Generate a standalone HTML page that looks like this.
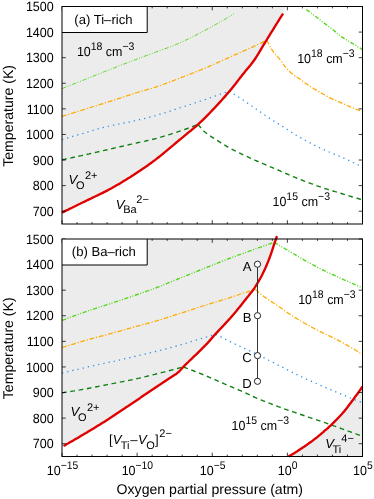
<!DOCTYPE html>
<html><head><meta charset="utf-8"><title>Defect phase diagram</title>
<style>
html,body{margin:0;padding:0;background:#fff;}
svg{display:block;font-family:"Liberation Sans",sans-serif;font-size:13.1px;fill:#000;will-change:transform;text-rendering:geometricPrecision;}
.it{font-style:italic;}
</style></head><body>
<svg width="374" height="499" viewBox="0 0 374 499">
<rect width="374" height="499" fill="#fff"/>
<polygon points="62.0,6.5 285.5,6.5 283.1,13.5 281.6,15.9 280.1,18.2 278.6,20.6 277.1,23.0 275.6,25.4 274.1,27.8 272.6,30.3 271.1,32.7 269.6,35.1 268.1,37.6 266.6,40.0 265.1,42.5 263.5,45.0 262.0,47.6 260.5,50.2 259.0,52.7 257.5,55.1 256.0,57.5 254.5,59.7 253.0,61.8 251.5,63.8 250.0,65.7 248.5,67.5 247.0,69.3 245.5,71.1 244.0,72.9 242.5,74.8 241.0,76.7 239.5,78.6 238.0,80.6 236.5,82.5 235.0,84.4 233.5,86.3 232.0,88.2 230.5,90.1 229.0,91.8 227.4,93.6 225.9,95.4 224.4,97.1 222.9,98.8 221.4,100.5 219.9,102.1 218.4,103.7 216.9,105.4 215.4,107.0 213.9,108.6 212.4,110.1 210.9,111.7 209.4,113.3 207.9,114.8 206.4,116.3 204.9,117.8 203.4,119.3 201.9,120.8 200.4,122.2 198.9,123.6 197.4,125.0 195.9,126.3 194.4,127.6 192.9,128.9 191.4,130.2 189.8,131.4 188.3,132.7 186.8,133.9 185.3,135.1 183.8,136.3 182.3,137.6 180.8,138.8 179.3,140.0 177.8,141.3 176.3,142.5 174.8,143.8 173.3,145.1 171.8,146.3 170.3,147.6 168.8,148.9 167.3,150.1 165.8,151.4 164.3,152.6 162.8,153.9 161.3,155.1 159.8,156.3 158.3,157.5 156.8,158.7 155.3,159.9 153.7,161.0 152.2,162.1 150.7,163.2 149.2,164.3 147.7,165.4 146.2,166.4 144.7,167.5 143.2,168.5 141.7,169.5 140.2,170.5 138.7,171.5 137.2,172.5 135.7,173.5 134.2,174.5 132.7,175.4 131.2,176.4 129.7,177.4 128.2,178.3 126.7,179.3 125.2,180.2 123.7,181.1 122.2,182.1 120.7,183.0 119.2,183.9 117.7,184.7 116.1,185.6 114.6,186.5 113.1,187.3 111.6,188.2 110.1,189.0 108.6,189.8 107.1,190.6 105.6,191.4 104.1,192.1 102.6,192.9 101.1,193.6 99.6,194.3 98.1,195.1 96.6,195.8 95.1,196.5 93.6,197.2 92.1,197.9 90.6,198.7 89.1,199.4 87.6,200.1 86.1,200.8 84.6,201.6 83.1,202.3 81.6,203.0 80.0,203.8 78.5,204.5 77.0,205.2 75.5,206.0 74.0,206.7 72.5,207.5 71.0,208.2 69.5,208.9 68.0,209.7 66.5,210.4 65.0,211.1 63.5,211.9 62.0,212.6 62.0,212.3" fill="#ececec"/>
<polyline points="62.0,88.6 63.5,88.0 65.0,87.4 66.5,86.8 68.0,86.2 69.5,85.6 71.0,85.0 72.6,84.4 74.1,83.8 75.6,83.2 77.1,82.6 78.6,82.0 80.1,81.4 81.6,80.8 83.1,80.2 84.6,79.6 86.1,79.0 87.6,78.4 89.1,77.8 90.7,77.2 92.2,76.6 93.7,76.0 95.2,75.4 96.7,74.8 98.2,74.2 99.7,73.6 101.2,73.0 102.7,72.4 104.2,71.8 105.7,71.2 107.2,70.6 108.7,70.0 110.3,69.4 111.8,68.8 113.3,68.2 114.8,67.6 116.3,67.0 117.8,66.4 119.3,65.8 120.8,65.3 122.3,64.7 123.8,64.1 125.3,63.5 126.8,63.0 128.3,62.4 129.9,61.8 131.4,61.2 132.9,60.7 134.4,60.1 135.9,59.5 137.4,59.0 138.9,58.4 140.4,57.8 141.9,57.3 143.4,56.7 144.9,56.1 146.4,55.6 147.9,55.0 149.5,54.5 151.0,53.9 152.5,53.4 154.0,52.8 155.5,52.2 157.0,51.7 158.5,51.1 160.0,50.6 161.5,50.0 163.0,49.5 164.5,48.9 166.0,48.4 167.6,47.8 169.1,47.2 170.6,46.7 172.1,46.1 173.6,45.5 175.1,44.9 176.6,44.3 178.1,43.6 179.6,43.0 181.1,42.3 182.6,41.6 184.1,40.9 185.6,40.2 187.2,39.5 188.7,38.8 190.2,38.0 191.7,37.3 193.2,36.5 194.7,35.7 196.2,35.0 197.7,34.2 199.2,33.4 200.7,32.6 202.2,31.8 203.7,31.0 205.2,30.2 206.8,29.4 208.3,28.6 209.8,27.8 211.3,26.9 212.8,26.1 214.3,25.3 215.8,24.4 217.3,23.6 218.8,22.7 220.3,21.8 221.8,21.0 223.3,20.1 224.9,19.2 226.4,18.3 227.9,17.4 229.4,16.5 230.9,15.6 232.4,14.7 233.9,13.8" fill="none" stroke="#55d61e" stroke-width="1.0" stroke-dasharray="4.2 1.6 1.0 1.6 1.0 1.6"/>
<polyline points="306.3,9.5 307.8,10.6 309.3,11.7 310.9,12.9 312.4,14.0 313.9,15.2 315.4,16.3 316.9,17.5 318.5,18.7 320.0,19.9 321.5,21.1 323.0,22.3 324.5,23.4 326.0,24.5 327.6,25.6 329.1,26.7 330.6,27.8 332.1,29.0 333.6,30.3 335.2,31.6 336.7,32.9 338.2,34.2 339.7,35.4 341.2,36.6 342.8,37.7 344.3,38.7 345.8,39.6 347.3,40.5 348.8,41.4 350.3,42.3 351.9,43.1 353.4,44.0 354.9,44.9 356.4,45.8 357.9,46.8 359.5,47.7 361.0,48.6 362.5,49.6" fill="none" stroke="#55d61e" stroke-width="1.4" stroke-dasharray="4.2 1.6 1.0 1.6 1.0 1.6"/>
<polyline points="62.0,116.4 63.5,115.9 65.0,115.5 66.5,115.0 68.0,114.5 69.5,114.1 71.0,113.6 72.5,113.1 74.0,112.7 75.6,112.2 77.1,111.7 78.6,111.3 80.1,110.8 81.6,110.3 83.1,109.8 84.6,109.4 86.1,108.9 87.6,108.4 89.1,107.9 90.6,107.5 92.1,107.0 93.6,106.5 95.1,106.0 96.6,105.6 98.1,105.1 99.6,104.6 101.2,104.1 102.7,103.7 104.2,103.2 105.7,102.7 107.2,102.2 108.7,101.7 110.2,101.3 111.7,100.8 113.2,100.3 114.7,99.8 116.2,99.3 117.7,98.8 119.2,98.3 120.7,97.9 122.2,97.4 123.7,96.9 125.2,96.4 126.8,95.9 128.3,95.4 129.8,94.9 131.3,94.4 132.8,93.9 134.3,93.4 135.8,93.0 137.3,92.5 138.8,92.0 140.3,91.6 141.8,91.1 143.3,90.7 144.8,90.3 146.3,89.8 147.8,89.4 149.3,89.0 150.8,88.6 152.4,88.1 153.9,87.6 155.4,87.2 156.9,86.7 158.4,86.1 159.9,85.6 161.4,85.1 162.9,84.5 164.4,84.0 165.9,83.4 167.4,82.9 168.9,82.3 170.4,81.7 171.9,81.1 173.4,80.6 174.9,80.0 176.4,79.4 178.0,78.8 179.5,78.3 181.0,77.7 182.5,77.1 184.0,76.5 185.5,75.9 187.0,75.4 188.5,74.8 190.0,74.2 191.5,73.6 193.0,73.0 194.5,72.4 196.0,71.8 197.5,71.2 199.0,70.6 200.5,70.0 202.0,69.3 203.6,68.7 205.1,68.1 206.6,67.4 208.1,66.8 209.6,66.1 211.1,65.5 212.6,64.8 214.1,64.2 215.6,63.5 217.1,62.8 218.6,62.1 220.1,61.5 221.6,60.8 223.1,60.1 224.6,59.4 226.1,58.8 227.6,58.1 229.2,57.4 230.7,56.7 232.2,56.1 233.7,55.4 235.2,54.7 236.7,54.1 238.2,53.4 239.7,52.7 241.2,52.1 242.7,51.4 244.2,50.7 245.7,50.0 247.2,49.4 248.7,48.7 250.2,48.0 251.7,47.3 253.2,46.6 254.8,45.9 256.3,45.2 257.8,44.5 259.3,43.8 260.8,43.1 262.3,42.4 263.8,41.6 265.3,40.9 266.8,40.2" fill="none" stroke="#ffab00" stroke-width="1.3" stroke-dasharray="4.8 1.8 1.2 1.8"/>
<polyline points="266.8,40.2 268.3,43.3 269.8,46.2 271.4,48.8 272.9,51.2 274.4,53.2 275.9,55.0 277.4,56.6 279.0,58.3 280.5,60.2 282.0,62.3 283.5,64.5 285.0,66.6 286.5,68.4 288.1,70.0 289.6,71.5 291.1,72.9 292.6,74.1 294.1,75.2 295.7,76.2 297.2,77.2 298.7,78.2 300.2,79.3 301.7,80.4 303.3,81.6 304.8,82.7 306.3,83.7 307.8,84.7 309.3,85.7 310.9,86.7 312.4,87.7 313.9,88.7 315.4,89.6 316.9,90.5 318.4,91.4 320.0,92.3 321.5,93.1 323.0,94.0 324.5,94.8 326.0,95.7 327.6,96.6 329.1,97.4 330.6,98.1 332.1,98.9 333.6,99.6 335.2,100.2 336.7,100.9 338.2,101.6 339.7,102.2 341.2,102.8 342.8,103.5 344.3,104.1 345.8,104.8 347.3,105.5 348.8,106.1 350.3,106.8 351.9,107.4 353.4,108.1 354.9,108.7 356.4,109.3 357.9,109.8 359.5,110.3 361.0,110.8 362.5,111.3" fill="none" stroke="#ffab00" stroke-width="1.3" stroke-dasharray="4.8 1.8 1.2 1.8"/>
<polyline points="62.0,139.7 63.5,139.2 65.0,138.7 66.5,138.3 68.0,137.8 69.5,137.3 71.0,136.9 72.6,136.4 74.1,136.0 75.6,135.5 77.1,135.1 78.6,134.6 80.1,134.2 81.6,133.7 83.1,133.3 84.6,132.8 86.1,132.4 87.6,132.0 89.1,131.5 90.7,131.1 92.2,130.7 93.7,130.2 95.2,129.8 96.7,129.4 98.2,128.9 99.7,128.5 101.2,128.1 102.7,127.7 104.2,127.3 105.7,126.9 107.2,126.5 108.8,126.2 110.3,125.8 111.8,125.5 113.3,125.1 114.8,124.8 116.3,124.5 117.8,124.2 119.3,123.9 120.8,123.6 122.3,123.3 123.8,123.0 125.3,122.7 126.8,122.4 128.4,122.1 129.9,121.8 131.4,121.5 132.9,121.2 134.4,120.8 135.9,120.5 137.4,120.1 138.9,119.8 140.4,119.4 141.9,119.1 143.4,118.7 144.9,118.4 146.5,118.0 148.0,117.6 149.5,117.2 151.0,116.8 152.5,116.4 154.0,116.0 155.5,115.6 157.0,115.1 158.5,114.7 160.0,114.2 161.5,113.8 163.0,113.3 164.6,112.8 166.1,112.4 167.6,111.9 169.1,111.4 170.6,110.9 172.1,110.4 173.6,109.9 175.1,109.4 176.6,108.9 178.1,108.4 179.6,107.9 181.1,107.4 182.6,107.0 184.2,106.5 185.7,106.0 187.2,105.5 188.7,105.0 190.2,104.5 191.7,104.0 193.2,103.5 194.7,103.0 196.2,102.5 197.7,102.0 199.2,101.5 200.7,101.0 202.3,100.5 203.8,100.0 205.3,99.5 206.8,99.0 208.3,98.4 209.8,97.9 211.3,97.4 212.8,96.9 214.3,96.4 215.8,95.8 217.3,95.3 218.8,94.8 220.4,94.2 221.9,93.7 223.4,93.2 224.9,92.6 226.4,92.1 227.9,91.5 229.4,91.0" fill="none" stroke="#2f90e4" stroke-width="1.3" stroke-dasharray="1.3 4.0"/>
<polyline points="229.4,91.0 230.9,92.0 232.4,93.0 233.9,94.0 235.5,95.0 237.0,96.0 238.5,97.0 240.0,98.0 241.5,99.0 243.0,100.0 244.5,101.1 246.0,102.1 247.6,103.1 249.1,104.1 250.6,105.2 252.1,106.2 253.6,107.3 255.1,108.3 256.6,109.4 258.1,110.4 259.6,111.5 261.2,112.6 262.7,113.6 264.2,114.7 265.7,115.7 267.2,116.7 268.7,117.8 270.2,118.8 271.8,119.7 273.3,120.7 274.8,121.6 276.3,122.5 277.8,123.4 279.3,124.3 280.8,125.3 282.3,126.2 283.9,127.2 285.4,128.2 286.9,129.2 288.4,130.2 289.9,131.2 291.4,132.2 292.9,133.1 294.4,134.1 295.9,135.0 297.5,135.9 299.0,136.8 300.5,137.6 302.0,138.5 303.5,139.3 305.0,140.2 306.5,141.0 308.1,141.8 309.6,142.6 311.1,143.4 312.6,144.2 314.1,145.0 315.6,145.7 317.1,146.5 318.6,147.2 320.1,148.0 321.7,148.7 323.2,149.4 324.7,150.1 326.2,150.8 327.7,151.4 329.2,152.0 330.7,152.6 332.2,153.3 333.8,153.9 335.3,154.5 336.8,155.1 338.3,155.7 339.8,156.4 341.3,157.0 342.8,157.7 344.4,158.4 345.9,159.0 347.4,159.7 348.9,160.4 350.4,161.1 351.9,161.8 353.4,162.6 354.9,163.3 356.4,164.0 358.0,164.8 359.5,165.5 361.0,166.2 362.5,167.0" fill="none" stroke="#2f90e4" stroke-width="1.3" stroke-dasharray="1.3 4.0"/>
<polyline points="62.0,159.8 63.5,159.5 65.0,159.2 66.5,158.8 68.0,158.5 69.6,158.2 71.1,157.9 72.6,157.5 74.1,157.2 75.6,156.9 77.1,156.6 78.6,156.2 80.1,155.9 81.6,155.6 83.2,155.2 84.7,154.9 86.2,154.6 87.7,154.2 89.2,153.9 90.7,153.5 92.2,153.2 93.7,152.8 95.2,152.5 96.8,152.1 98.3,151.8 99.8,151.4 101.3,151.1 102.8,150.7 104.3,150.4 105.8,150.0 107.3,149.7 108.8,149.3 110.4,149.0 111.9,148.6 113.4,148.3 114.9,147.9 116.4,147.6 117.9,147.2 119.4,146.9 120.9,146.5 122.4,146.2 124.0,145.8 125.5,145.5 127.0,145.1 128.5,144.8 130.0,144.4 131.5,144.1 133.0,143.7 134.5,143.4 136.0,143.1 137.6,142.7 139.1,142.4 140.6,142.1 142.1,141.7 143.6,141.4 145.1,141.1 146.6,140.7 148.1,140.4 149.6,140.1 151.2,139.7 152.7,139.3 154.2,139.0 155.7,138.6 157.2,138.2 158.7,137.7 160.2,137.3 161.7,136.9 163.2,136.4 164.8,136.0 166.3,135.5 167.8,135.1 169.3,134.6 170.8,134.1 172.3,133.6 173.8,133.1 175.3,132.6 176.8,132.2 178.4,131.6 179.9,131.1 181.4,130.6 182.9,130.1 184.4,129.6 185.9,129.0 187.4,128.5 188.9,127.9 190.4,127.3 192.0,126.8 193.5,126.2 195.0,125.6 196.5,125.0 198.0,124.4" fill="none" stroke="#0f7f12" stroke-width="1.4" stroke-dasharray="4.7 3.7"/>
<polyline points="198.0,124.4 199.5,126.3 201.0,128.0 202.5,129.7 204.0,131.2 205.5,132.5 207.1,133.7 208.6,134.8 210.1,135.8 211.6,136.9 213.1,137.8 214.6,138.8 216.1,139.8 217.6,140.7 219.1,141.7 220.6,142.6 222.1,143.6 223.7,144.5 225.2,145.4 226.7,146.3 228.2,147.1 229.7,148.0 231.2,148.8 232.7,149.6 234.2,150.4 235.7,151.1 237.2,151.9 238.7,152.6 240.3,153.3 241.8,154.1 243.3,154.8 244.8,155.5 246.3,156.2 247.8,156.9 249.3,157.6 250.8,158.3 252.3,159.0 253.8,159.6 255.3,160.3 256.9,161.0 258.4,161.6 259.9,162.3 261.4,162.9 262.9,163.6 264.4,164.2 265.9,164.8 267.4,165.5 268.9,166.1 270.4,166.8 271.9,167.4 273.5,168.1 275.0,168.7 276.5,169.4 278.0,170.0 279.5,170.7 281.0,171.4 282.5,172.0 284.0,172.7 285.5,173.3 287.0,174.0 288.6,174.6 290.1,175.3 291.6,175.9 293.1,176.6 294.6,177.2 296.1,177.8 297.6,178.4 299.1,179.0 300.6,179.6 302.1,180.2 303.6,180.8 305.2,181.4 306.7,182.0 308.2,182.5 309.7,183.1 311.2,183.7 312.7,184.2 314.2,184.8 315.7,185.3 317.2,185.9 318.7,186.4 320.2,186.9 321.8,187.4 323.3,188.0 324.8,188.5 326.3,188.9 327.8,189.4 329.3,189.9 330.8,190.3 332.3,190.8 333.8,191.2 335.3,191.7 336.8,192.1 338.4,192.6 339.9,193.0 341.4,193.5 342.9,194.0 344.4,194.4 345.9,194.9 347.4,195.3 348.9,195.8 350.4,196.3 351.9,196.7 353.4,197.2 355.0,197.6 356.5,198.1 358.0,198.5 359.5,199.0 361.0,199.4 362.5,199.9" fill="none" stroke="#0f7f12" stroke-width="1.4" stroke-dasharray="4.7 3.7"/>
<polyline points="62.0,212.6 63.5,211.9 65.0,211.1 66.5,210.4 68.0,209.7 69.5,208.9 71.0,208.2 72.5,207.5 74.0,206.7 75.5,206.0 77.0,205.2 78.5,204.5 80.0,203.8 81.6,203.0 83.1,202.3 84.6,201.6 86.1,200.8 87.6,200.1 89.1,199.4 90.6,198.7 92.1,197.9 93.6,197.2 95.1,196.5 96.6,195.8 98.1,195.1 99.6,194.3 101.1,193.6 102.6,192.9 104.1,192.1 105.6,191.4 107.1,190.6 108.6,189.8 110.1,189.0 111.6,188.2 113.1,187.3 114.6,186.5 116.1,185.6 117.7,184.7 119.2,183.9 120.7,183.0 122.2,182.1 123.7,181.1 125.2,180.2 126.7,179.3 128.2,178.3 129.7,177.4 131.2,176.4 132.7,175.4 134.2,174.5 135.7,173.5 137.2,172.5 138.7,171.5 140.2,170.5 141.7,169.5 143.2,168.5 144.7,167.5 146.2,166.4 147.7,165.4 149.2,164.3 150.7,163.2 152.2,162.1 153.7,161.0 155.3,159.9 156.8,158.7 158.3,157.5 159.8,156.3 161.3,155.1 162.8,153.9 164.3,152.6 165.8,151.4 167.3,150.1 168.8,148.9 170.3,147.6 171.8,146.3 173.3,145.1 174.8,143.8 176.3,142.5 177.8,141.3 179.3,140.0 180.8,138.8 182.3,137.6 183.8,136.3 185.3,135.1 186.8,133.9 188.3,132.7 189.8,131.4 191.4,130.2 192.9,128.9 194.4,127.6 195.9,126.3 197.4,125.0 198.9,123.6 200.4,122.2 201.9,120.8 203.4,119.3 204.9,117.8 206.4,116.3 207.9,114.8 209.4,113.3 210.9,111.7 212.4,110.1 213.9,108.6 215.4,107.0 216.9,105.4 218.4,103.7 219.9,102.1 221.4,100.5 222.9,98.8 224.4,97.1 225.9,95.4 227.4,93.6 229.0,91.8 230.5,90.1 232.0,88.2 233.5,86.3 235.0,84.4 236.5,82.5 238.0,80.6 239.5,78.6 241.0,76.7 242.5,74.8 244.0,72.9 245.5,71.1 247.0,69.3 248.5,67.5 250.0,65.7 251.5,63.8 253.0,61.8 254.5,59.7 256.0,57.5 257.5,55.1 259.0,52.7 260.5,50.2 262.0,47.6 263.5,45.0 265.1,42.5 266.6,40.0 268.1,37.6 269.6,35.1 271.1,32.7 272.6,30.3 274.1,27.8 275.6,25.4 277.1,23.0 278.6,20.6 280.1,18.2 281.6,15.9 283.1,13.5" fill="none" stroke="#e00000" stroke-width="2.35" stroke-linejoin="round"/>
<path d="M62.00,224.0v-3.8M62.00,6.5v3.8" stroke="#000" stroke-width="0.75"/>
<path d="M77.03,224.0v-1.9M77.03,6.5v1.9" stroke="#000" stroke-width="0.75"/>
<path d="M92.05,224.0v-1.9M92.05,6.5v1.9" stroke="#000" stroke-width="0.75"/>
<path d="M107.08,224.0v-1.9M107.08,6.5v1.9" stroke="#000" stroke-width="0.75"/>
<path d="M122.10,224.0v-1.9M122.10,6.5v1.9" stroke="#000" stroke-width="0.75"/>
<path d="M137.12,224.0v-3.8M137.12,6.5v3.8" stroke="#000" stroke-width="0.75"/>
<path d="M152.15,224.0v-1.9M152.15,6.5v1.9" stroke="#000" stroke-width="0.75"/>
<path d="M167.18,224.0v-1.9M167.18,6.5v1.9" stroke="#000" stroke-width="0.75"/>
<path d="M182.20,224.0v-1.9M182.20,6.5v1.9" stroke="#000" stroke-width="0.75"/>
<path d="M197.22,224.0v-1.9M197.22,6.5v1.9" stroke="#000" stroke-width="0.75"/>
<path d="M212.25,224.0v-3.8M212.25,6.5v3.8" stroke="#000" stroke-width="0.75"/>
<path d="M227.28,224.0v-1.9M227.28,6.5v1.9" stroke="#000" stroke-width="0.75"/>
<path d="M242.30,224.0v-1.9M242.30,6.5v1.9" stroke="#000" stroke-width="0.75"/>
<path d="M257.33,224.0v-1.9M257.33,6.5v1.9" stroke="#000" stroke-width="0.75"/>
<path d="M272.35,224.0v-1.9M272.35,6.5v1.9" stroke="#000" stroke-width="0.75"/>
<path d="M287.38,224.0v-3.8M287.38,6.5v3.8" stroke="#000" stroke-width="0.75"/>
<path d="M302.40,224.0v-1.9M302.40,6.5v1.9" stroke="#000" stroke-width="0.75"/>
<path d="M317.43,224.0v-1.9M317.43,6.5v1.9" stroke="#000" stroke-width="0.75"/>
<path d="M332.45,224.0v-1.9M332.45,6.5v1.9" stroke="#000" stroke-width="0.75"/>
<path d="M347.48,224.0v-1.9M347.48,6.5v1.9" stroke="#000" stroke-width="0.75"/>
<path d="M362.50,224.0v-3.8M362.50,6.5v3.8" stroke="#000" stroke-width="0.75"/>
<path d="M62.0,211.21h3.8M362.5,211.21h-3.8" stroke="#000" stroke-width="0.75"/>
<text transform="translate(53.7,215.86) scale(0.94,1)" text-anchor="end" font-size="13.3">700</text>
<path d="M62.0,185.62h3.8M362.5,185.62h-3.8" stroke="#000" stroke-width="0.75"/>
<text transform="translate(53.7,190.27) scale(0.94,1)" text-anchor="end" font-size="13.3">800</text>
<path d="M62.0,160.03h3.8M362.5,160.03h-3.8" stroke="#000" stroke-width="0.75"/>
<text transform="translate(53.7,164.68) scale(0.94,1)" text-anchor="end" font-size="13.3">900</text>
<path d="M62.0,134.44h3.8M362.5,134.44h-3.8" stroke="#000" stroke-width="0.75"/>
<text transform="translate(53.7,139.09) scale(0.94,1)" text-anchor="end" font-size="13.3">1000</text>
<path d="M62.0,108.85h3.8M362.5,108.85h-3.8" stroke="#000" stroke-width="0.75"/>
<text transform="translate(53.7,113.50) scale(0.94,1)" text-anchor="end" font-size="13.3">1100</text>
<path d="M62.0,83.26h3.8M362.5,83.26h-3.8" stroke="#000" stroke-width="0.75"/>
<text transform="translate(53.7,87.91) scale(0.94,1)" text-anchor="end" font-size="13.3">1200</text>
<path d="M62.0,57.68h3.8M362.5,57.68h-3.8" stroke="#000" stroke-width="0.75"/>
<text transform="translate(53.7,62.33) scale(0.94,1)" text-anchor="end" font-size="13.3">1300</text>
<path d="M62.0,32.09h3.8M362.5,32.09h-3.8" stroke="#000" stroke-width="0.75"/>
<text transform="translate(53.7,36.74) scale(0.94,1)" text-anchor="end" font-size="13.3">1400</text>
<path d="M62.0,6.50h3.8M362.5,6.50h-3.8" stroke="#000" stroke-width="0.75"/>
<text transform="translate(53.7,11.15) scale(0.94,1)" text-anchor="end" font-size="13.3">1500</text>
<rect x="62.0" y="6.5" width="85.2" height="26.0" fill="#fff"/><path d="M62.0,32.5h85.2V6.5" fill="none" stroke="#000" stroke-width="1"/>
<rect x="62.0" y="6.5" width="300.5" height="217.5" fill="none" stroke="#000" stroke-width="1"/>
<text x="74.3" y="23.9">(a) Ti–rich</text>
<text transform="translate(76.9,55.8) scale(0.95,1)">10<tspan font-size="11.0" dy="-5.6">18</tspan><tspan dy="5.6"> cm</tspan><tspan font-size="11.0" dy="-5.6">−3</tspan></text>
<text transform="translate(297.2,62.8) scale(0.95,1)">10<tspan font-size="11.0" dy="-5.6">18</tspan><tspan dy="5.6"> cm</tspan><tspan font-size="11.0" dy="-5.6">−3</tspan></text>
<text transform="translate(272.5,206.0) scale(0.95,1)">10<tspan font-size="11.0" dy="-5.6">15</tspan><tspan dy="5.6"> cm</tspan><tspan font-size="11.0" dy="-5.6">−3</tspan></text>
<text x="68.6" y="184.2"><tspan class="it">V</tspan><tspan font-size="11.0" dy="4.8" dx="-1.4">O</tspan><tspan font-size="11.0" dy="-10.1" dx="0.5">2+</tspan></text>
<text x="115.8" y="208.6"><tspan class="it">V</tspan><tspan font-size="11.0" dy="4.8" dx="-1.4">Ba</tspan><tspan font-size="11.0" dy="-10.1" dx="-0.3">2−</tspan></text>
<polygon points="62.0,239.0 276.2,239.0 275.5,240.3 274.0,244.7 272.5,249.3 271.0,253.9 269.5,258.0 268.0,261.9 266.5,265.5 265.0,268.9 263.5,272.1 262.0,275.2 260.5,278.0 259.0,280.6 257.5,283.1 256.0,285.7 254.4,288.1 252.9,290.2 251.4,292.2 249.9,294.1 248.4,296.0 246.9,297.8 245.4,299.7 243.9,301.6 242.4,303.5 240.9,305.4 239.4,307.3 237.9,309.1 236.4,311.0 234.9,312.7 233.4,314.5 231.9,316.2 230.4,318.0 228.9,319.6 227.4,321.3 225.9,322.9 224.4,324.5 222.9,326.1 221.4,327.7 219.9,329.3 218.4,330.9 216.9,332.5 215.4,334.1 213.9,335.8 212.3,337.6 210.8,339.4 209.3,341.1 207.8,342.8 206.3,344.3 204.8,345.9 203.3,347.4 201.8,348.9 200.3,350.4 198.8,351.8 197.3,353.3 195.8,354.8 194.3,356.2 192.8,357.7 191.3,359.1 189.8,360.5 188.3,362.0 186.8,363.4 185.3,364.9 183.8,366.4 182.3,368.0 180.8,369.7 179.3,371.3 177.8,372.7 176.3,373.9 174.8,374.8 173.3,375.8 171.8,376.8 170.2,377.8 168.7,378.8 167.2,379.8 165.7,380.8 164.2,381.8 162.7,382.8 161.2,383.8 159.7,384.8 158.2,385.7 156.7,386.7 155.2,387.7 153.7,388.7 152.2,389.7 150.7,390.7 149.2,391.7 147.7,392.7 146.2,393.8 144.7,394.8 143.2,395.8 141.7,396.8 140.2,397.9 138.7,398.9 137.2,399.9 135.7,400.9 134.2,401.9 132.7,402.9 131.2,404.0 129.7,405.0 128.2,406.0 126.6,407.0 125.1,408.0 123.6,409.1 122.1,410.1 120.6,411.1 119.1,412.1 117.6,413.1 116.1,414.1 114.6,415.1 113.1,416.1 111.6,417.1 110.1,418.0 108.6,419.0 107.1,419.9 105.6,420.9 104.1,421.9 102.6,422.8 101.1,423.7 99.6,424.7 98.1,425.6 96.6,426.5 95.1,427.5 93.6,428.4 92.1,429.3 90.6,430.2 89.1,431.1 87.6,432.0 86.1,432.9 84.5,433.8 83.0,434.7 81.5,435.6 80.0,436.5 78.5,437.4 77.0,438.3 75.5,439.1 74.0,440.0 72.5,440.9 71.0,441.7 69.5,442.6 68.0,443.5 66.5,444.3 65.0,445.2 63.5,446.0 62.0,447.0" fill="#ececec"/>
<polygon points="288.5,456.5 290.0,455.6 291.5,454.8 293.0,453.9 294.5,453.0 296.1,452.0 297.6,451.1 299.1,450.1 300.6,449.1 302.1,448.1 303.6,447.1 305.1,446.0 306.6,445.0 308.1,443.9 309.6,442.8 311.2,441.7 312.7,440.6 314.2,439.4 315.7,438.3 317.2,437.1 318.7,435.8 320.2,434.6 321.7,433.3 323.2,432.1 324.7,430.7 326.3,429.4 327.8,428.1 329.3,426.7 330.8,425.3 332.3,423.8 333.8,422.4 335.3,420.9 336.8,419.4 338.3,417.8 339.8,416.2 341.4,414.5 342.9,412.8 344.4,411.1 345.9,409.2 347.4,407.3 348.9,405.3 350.4,403.3 351.9,401.2 353.4,399.2 354.9,397.1 356.5,395.1 358.0,393.0 359.5,390.8 361.0,388.7 362.5,386.5 362.5,456.5" fill="#ececec"/>
<polyline points="62.0,320.4 63.5,319.8 65.0,319.3 66.5,318.7 68.0,318.1 69.5,317.6 71.0,317.0 72.5,316.5 74.0,315.9 75.5,315.4 77.0,314.8 78.6,314.3 80.1,313.7 81.6,313.2 83.1,312.7 84.6,312.1 86.1,311.6 87.6,311.1 89.1,310.6 90.6,310.1 92.1,309.6 93.6,309.1 95.1,308.6 96.6,308.1 98.1,307.6 99.6,307.1 101.1,306.6 102.6,306.1 104.1,305.7 105.6,305.2 107.1,304.7 108.7,304.2 110.2,303.7 111.7,303.2 113.2,302.7 114.7,302.2 116.2,301.7 117.7,301.2 119.2,300.7 120.7,300.2 122.2,299.7 123.7,299.2 125.2,298.7 126.7,298.1 128.2,297.6 129.7,297.1 131.2,296.6 132.7,296.1 134.2,295.6 135.7,295.0 137.2,294.5 138.8,294.0 140.3,293.5 141.8,293.0 143.3,292.4 144.8,291.9 146.3,291.4 147.8,290.9 149.3,290.3 150.8,289.8 152.3,289.2 153.8,288.7 155.3,288.1 156.8,287.5 158.3,286.9 159.8,286.4 161.3,285.8 162.8,285.1 164.3,284.5 165.8,283.9 167.3,283.3 168.9,282.7 170.4,282.1 171.9,281.5 173.4,280.8 174.9,280.2 176.4,279.6 177.9,279.0 179.4,278.4 180.9,277.8 182.4,277.2 183.9,276.6 185.4,276.0 186.9,275.4 188.4,274.8 189.9,274.2 191.4,273.6 192.9,272.9 194.4,272.3 195.9,271.7 197.4,271.1 199.0,270.5 200.5,269.9 202.0,269.3 203.5,268.7 205.0,268.1 206.5,267.5 208.0,266.9 209.5,266.3 211.0,265.7 212.5,265.1 214.0,264.5 215.5,263.9 217.0,263.3 218.5,262.7 220.0,262.1 221.5,261.5 223.0,260.9 224.5,260.3 226.0,259.7 227.5,259.1 229.1,258.5 230.6,258.0 232.1,257.4 233.6,256.8 235.1,256.3 236.6,255.7 238.1,255.2 239.6,254.6 241.1,254.1 242.6,253.5 244.1,253.0 245.6,252.5 247.1,251.9 248.6,251.4 250.1,250.8 251.6,250.3 253.1,249.8 254.6,249.2 256.1,248.7 257.6,248.1 259.2,247.6 260.7,247.1 262.2,246.5 263.7,246.0 265.2,245.5 266.7,244.9 268.2,244.4 269.7,243.9 271.2,243.4 272.7,242.8 274.2,242.3" fill="none" stroke="#55d61e" stroke-width="1.4" stroke-dasharray="4.2 1.6 1.0 1.6 1.0 1.6"/>
<polyline points="274.2,242.3 275.7,243.2 277.2,244.1 278.8,245.1 280.3,246.0 281.8,246.9 283.3,247.8 284.9,248.6 286.4,249.5 287.9,250.4 289.4,251.3 290.9,252.2 292.5,253.1 294.0,254.0 295.5,254.9 297.0,255.9 298.6,256.8 300.1,257.7 301.6,258.6 303.1,259.4 304.6,260.3 306.2,261.1 307.7,262.0 309.2,262.8 310.7,263.6 312.3,264.5 313.8,265.3 315.3,266.1 316.8,266.9 318.4,267.6 319.9,268.4 321.4,269.2 322.9,270.0 324.4,270.7 326.0,271.4 327.5,272.2 329.0,272.9 330.5,273.6 332.1,274.3 333.6,275.0 335.1,275.7 336.6,276.4 338.1,277.1 339.7,277.8 341.2,278.5 342.7,279.2 344.2,279.9 345.8,280.6 347.3,281.2 348.8,281.9 350.3,282.6 351.8,283.3 353.4,283.9 354.9,284.6 356.4,285.2 357.9,285.9 359.5,286.5 361.0,287.2 362.5,287.8" fill="none" stroke="#55d61e" stroke-width="1.4" stroke-dasharray="4.2 1.6 1.0 1.6 1.0 1.6"/>
<polyline points="62.0,347.5 63.5,347.0 65.0,346.6 66.5,346.1 68.0,345.6 69.5,345.2 71.0,344.7 72.5,344.3 74.0,343.8 75.5,343.4 77.0,342.9 78.5,342.5 80.0,342.0 81.5,341.6 83.0,341.2 84.5,340.7 86.0,340.3 87.5,339.9 89.0,339.4 90.5,339.0 92.0,338.6 93.5,338.2 95.0,337.8 96.5,337.4 98.0,337.0 99.5,336.6 101.0,336.2 102.5,335.8 104.0,335.4 105.5,335.0 107.0,334.6 108.5,334.2 110.0,333.8 111.5,333.4 113.0,332.9 114.5,332.5 116.0,332.1 117.5,331.7 119.0,331.3 120.5,330.8 122.0,330.4 123.5,330.0 125.0,329.6 126.5,329.1 128.0,328.7 129.5,328.3 131.0,327.9 132.5,327.4 134.0,327.0 135.5,326.6 137.0,326.2 138.5,325.8 140.0,325.4 141.5,324.9 143.0,324.5 144.5,324.2 146.0,323.8 147.5,323.4 149.0,323.0 150.5,322.6 152.0,322.2 153.5,321.7 155.0,321.3 156.5,320.9 158.0,320.4 159.5,320.0 161.0,319.5 162.5,319.0 164.0,318.6 165.5,318.1 167.0,317.6 168.5,317.1 170.0,316.6 171.5,316.1 173.0,315.7 174.5,315.2 176.0,314.7 177.5,314.2 179.0,313.7 180.5,313.3 182.0,312.8 183.5,312.3 185.0,311.8 186.5,311.3 188.0,310.8 189.5,310.4 191.0,309.9 192.5,309.4 194.0,308.9 195.5,308.4 197.0,307.9 198.5,307.4 200.0,307.0 201.5,306.5 203.0,306.0 204.5,305.5 206.0,305.1 207.5,304.6 209.0,304.1 210.5,303.7 212.0,303.2 213.5,302.7 215.0,302.3 216.5,301.8 218.0,301.4 219.5,300.9 221.0,300.4 222.5,300.0 224.0,299.5 225.5,299.0 227.0,298.6 228.5,298.1 230.0,297.6 231.5,297.1 233.0,296.6 234.5,296.1 236.0,295.6 237.5,295.1 239.0,294.5 240.5,294.0 242.0,293.5 243.5,293.0 245.0,292.5 246.5,292.1 248.0,291.6 249.5,291.2 251.0,290.7 252.5,290.3 254.0,289.9 255.5,289.5" fill="none" stroke="#ffab00" stroke-width="1.3" stroke-dasharray="4.8 1.8 1.2 1.8"/>
<polyline points="255.5,289.5 257.0,290.8 258.5,292.1 260.0,293.4 261.5,294.6 263.0,295.8 264.5,296.9 266.0,298.1 267.6,299.1 269.1,300.1 270.6,301.1 272.1,302.1 273.6,303.0 275.1,304.0 276.6,305.0 278.1,306.0 279.6,307.0 281.1,308.1 282.6,309.2 284.1,310.2 285.6,311.3 287.1,312.4 288.7,313.5 290.2,314.5 291.7,315.5 293.2,316.4 294.7,317.4 296.2,318.3 297.7,319.2 299.2,320.1 300.7,321.0 302.2,321.8 303.7,322.7 305.2,323.5 306.7,324.4 308.2,325.2 309.8,326.1 311.3,326.9 312.8,327.7 314.3,328.5 315.8,329.3 317.3,330.1 318.8,330.9 320.3,331.7 321.8,332.4 323.3,333.1 324.8,333.8 326.3,334.5 327.8,335.1 329.3,335.8 330.9,336.6 332.4,337.3 333.9,338.1 335.4,338.9 336.9,339.6 338.4,340.4 339.9,341.2 341.4,342.0 342.9,342.9 344.4,343.7 345.9,344.5 347.4,345.4 348.9,346.3 350.4,347.1 352.0,348.0 353.5,348.9 355.0,349.8 356.5,350.8 358.0,351.7 359.5,352.7 361.0,353.6 362.5,354.6" fill="none" stroke="#ffab00" stroke-width="1.3" stroke-dasharray="4.8 1.8 1.2 1.8"/>
<polyline points="62.0,373.0 63.5,372.6 65.0,372.3 66.5,371.9 68.0,371.6 69.5,371.2 71.0,370.8 72.6,370.5 74.1,370.1 75.6,369.8 77.1,369.4 78.6,369.1 80.1,368.7 81.6,368.4 83.1,368.1 84.6,367.7 86.1,367.4 87.6,367.0 89.1,366.7 90.6,366.4 92.2,366.0 93.7,365.7 95.2,365.4 96.7,365.1 98.2,364.7 99.7,364.4 101.2,364.1 102.7,363.8 104.2,363.4 105.7,363.1 107.2,362.8 108.7,362.4 110.3,362.1 111.8,361.8 113.3,361.4 114.8,361.1 116.3,360.7 117.8,360.4 119.3,360.1 120.8,359.7 122.3,359.4 123.8,359.0 125.3,358.7 126.8,358.3 128.3,357.9 129.9,357.6 131.4,357.2 132.9,356.9 134.4,356.5 135.9,356.2 137.4,355.8 138.9,355.5 140.4,355.1 141.9,354.8 143.4,354.4 144.9,354.1 146.4,353.7 147.9,353.4 149.5,353.0 151.0,352.6 152.5,352.3 154.0,351.9 155.5,351.5 157.0,351.2 158.5,350.8 160.0,350.4 161.5,350.0 163.0,349.6 164.5,349.2 166.0,348.8 167.5,348.4 169.1,348.0 170.6,347.6 172.1,347.2 173.6,346.8 175.1,346.4 176.6,346.0 178.1,345.6 179.6,345.2 181.1,344.7 182.6,344.3 184.1,343.8 185.6,343.4 187.2,342.9 188.7,342.5 190.2,342.0 191.7,341.5 193.2,341.0 194.7,340.6 196.2,340.1 197.7,339.6 199.2,339.2 200.7,338.7 202.2,338.2 203.7,337.8 205.2,337.3 206.8,336.9 208.3,336.4 209.8,336.0 211.3,335.5 212.8,335.1 214.3,334.6 215.8,334.2" fill="none" stroke="#2f90e4" stroke-width="1.3" stroke-dasharray="1.3 4.0"/>
<polyline points="215.8,334.2 217.3,335.0 218.8,335.8 220.3,336.6 221.8,337.4 223.4,338.2 224.9,339.0 226.4,339.8 227.9,340.5 229.4,341.3 230.9,342.1 232.4,342.8 233.9,343.5 235.5,344.3 237.0,345.0 238.5,345.7 240.0,346.4 241.5,347.1 243.0,347.8 244.5,348.5 246.0,349.2 247.6,349.9 249.1,350.6 250.6,351.3 252.1,351.9 253.6,352.6 255.1,353.4 256.6,354.1 258.1,354.8 259.7,355.6 261.2,356.3 262.7,357.1 264.2,357.9 265.7,358.7 267.2,359.4 268.7,360.2 270.2,361.0 271.8,361.8 273.3,362.5 274.8,363.3 276.3,364.1 277.8,364.9 279.3,365.6 280.8,366.4 282.3,367.1 283.9,367.9 285.4,368.7 286.9,369.5 288.4,370.2 289.9,371.0 291.4,371.8 292.9,372.6 294.4,373.3 296.0,374.1 297.5,374.8 299.0,375.6 300.5,376.3 302.0,377.0 303.5,377.8 305.0,378.5 306.5,379.2 308.1,379.9 309.6,380.5 311.1,381.2 312.6,381.9 314.1,382.6 315.6,383.2 317.1,383.9 318.6,384.5 320.2,385.2 321.7,385.9 323.2,386.5 324.7,387.2 326.2,387.8 327.7,388.5 329.2,389.1 330.7,389.7 332.3,390.4 333.8,391.0 335.3,391.7 336.8,392.3 338.3,392.9 339.8,393.6 341.3,394.2 342.8,394.8 344.4,395.5 345.9,396.1 347.4,396.7 348.9,397.3 350.4,398.0 351.9,398.6 353.4,399.2 354.9,399.8 356.5,400.4 358.0,401.0 359.5,401.6 361.0,402.2 362.5,402.8" fill="none" stroke="#2f90e4" stroke-width="1.3" stroke-dasharray="1.3 4.0"/>
<polyline points="62.0,392.8 63.5,392.6 65.0,392.3 66.6,392.1 68.1,391.9 69.6,391.6 71.1,391.4 72.6,391.1 74.1,390.9 75.7,390.6 77.2,390.4 78.7,390.1 80.2,389.9 81.7,389.6 83.2,389.3 84.8,389.1 86.3,388.8 87.8,388.5 89.3,388.2 90.8,387.9 92.3,387.6 93.9,387.3 95.4,387.0 96.9,386.7 98.4,386.4 99.9,386.1 101.5,385.8 103.0,385.5 104.5,385.2 106.0,384.9 107.5,384.6 109.0,384.3 110.6,383.9 112.1,383.6 113.6,383.4 115.1,383.1 116.6,382.8 118.1,382.5 119.7,382.2 121.2,381.9 122.7,381.6 124.2,381.3 125.7,381.0 127.3,380.7 128.8,380.4 130.3,380.1 131.8,379.8 133.3,379.4 134.8,379.1 136.4,378.8 137.9,378.4 139.4,378.1 140.9,377.7 142.4,377.4 143.9,377.0 145.5,376.6 147.0,376.3 148.5,375.9 150.0,375.5 151.5,375.1 153.1,374.7 154.6,374.4 156.1,374.0 157.6,373.6 159.1,373.2 160.6,372.8 162.2,372.4 163.7,372.1 165.2,371.7 166.7,371.3 168.2,370.9 169.7,370.5 171.3,370.1 172.8,369.7 174.3,369.3 175.8,368.9 177.3,368.5 178.8,368.1 180.4,367.7 181.9,367.3 183.4,366.9" fill="none" stroke="#0f7f12" stroke-width="1.4" stroke-dasharray="4.7 3.7"/>
<polyline points="183.4,366.9 184.9,367.5 186.4,368.1 187.9,368.6 189.4,369.2 190.9,369.8 192.4,370.4 193.9,371.0 195.4,371.6 196.9,372.2 198.5,372.8 200.0,373.4 201.5,374.0 203.0,374.7 204.5,375.3 206.0,375.9 207.5,376.5 209.0,377.2 210.5,377.8 212.0,378.4 213.5,379.1 215.0,379.7 216.5,380.4 218.0,381.1 219.5,381.7 221.0,382.4 222.5,383.0 224.0,383.7 225.5,384.3 227.0,385.0 228.6,385.6 230.1,386.3 231.6,386.9 233.1,387.6 234.6,388.2 236.1,388.8 237.6,389.5 239.1,390.1 240.6,390.7 242.1,391.4 243.6,392.0 245.1,392.7 246.6,393.4 248.1,394.1 249.6,394.8 251.1,395.5 252.6,396.3 254.1,397.0 255.6,397.6 257.1,398.3 258.7,398.9 260.2,399.6 261.7,400.2 263.2,400.8 264.7,401.4 266.2,402.0 267.7,402.6 269.2,403.2 270.7,403.7 272.2,404.3 273.7,404.9 275.2,405.4 276.7,406.0 278.2,406.6 279.7,407.1 281.2,407.7 282.7,408.2 284.2,408.8 285.7,409.3 287.2,409.8 288.8,410.4 290.3,410.9 291.8,411.4 293.3,411.9 294.8,412.4 296.3,413.0 297.8,413.5 299.3,414.0 300.8,414.5 302.3,415.0 303.8,415.5 305.3,416.1 306.8,416.6 308.3,417.1 309.8,417.6 311.3,418.1 312.8,418.6 314.3,419.1 315.8,419.6 317.3,420.1 318.9,420.6 320.4,421.1 321.9,421.7 323.4,422.2 324.9,422.7 326.4,423.2 327.9,423.8 329.4,424.3 330.9,424.8 332.4,425.3 333.9,425.9 335.4,426.4 336.9,426.9 338.4,427.5 339.9,428.0 341.4,428.6 342.9,429.1 344.4,429.7 345.9,430.2 347.4,430.7 349.0,431.3 350.5,431.8 352.0,432.4 353.5,432.9 355.0,433.5 356.5,434.1 358.0,434.6 359.5,435.2 361.0,435.7 362.5,436.3" fill="none" stroke="#0f7f12" stroke-width="1.4" stroke-dasharray="4.7 3.7"/>
<polyline points="63.5,446.0 65.0,445.2 66.5,444.3 68.0,443.5 69.5,442.6 71.0,441.7 72.5,440.9 74.0,440.0 75.5,439.1 77.0,438.3 78.5,437.4 80.0,436.5 81.5,435.6 83.0,434.7 84.5,433.8 86.1,432.9 87.6,432.0 89.1,431.1 90.6,430.2 92.1,429.3 93.6,428.4 95.1,427.5 96.6,426.5 98.1,425.6 99.6,424.7 101.1,423.7 102.6,422.8 104.1,421.9 105.6,420.9 107.1,419.9 108.6,419.0 110.1,418.0 111.6,417.1 113.1,416.1 114.6,415.1 116.1,414.1 117.6,413.1 119.1,412.1 120.6,411.1 122.1,410.1 123.6,409.1 125.1,408.0 126.6,407.0 128.2,406.0 129.7,405.0 131.2,404.0 132.7,402.9 134.2,401.9 135.7,400.9 137.2,399.9 138.7,398.9 140.2,397.9 141.7,396.8 143.2,395.8 144.7,394.8 146.2,393.8 147.7,392.7 149.2,391.7 150.7,390.7 152.2,389.7 153.7,388.7 155.2,387.7 156.7,386.7 158.2,385.7 159.7,384.8 161.2,383.8 162.7,382.8 164.2,381.8 165.7,380.8 167.2,379.8 168.7,378.8 170.2,377.8 171.8,376.8 173.3,375.8 174.8,374.8 176.3,373.9 177.8,372.7 179.3,371.3 180.8,369.7 182.3,368.0 183.8,366.4 185.3,364.9 186.8,363.4 188.3,362.0 189.8,360.5 191.3,359.1 192.8,357.7 194.3,356.2 195.8,354.8 197.3,353.3 198.8,351.8 200.3,350.4 201.8,348.9 203.3,347.4 204.8,345.9 206.3,344.3 207.8,342.8 209.3,341.1 210.8,339.4 212.3,337.6 213.9,335.8 215.4,334.1 216.9,332.5 218.4,330.9 219.9,329.3 221.4,327.7 222.9,326.1 224.4,324.5 225.9,322.9 227.4,321.3 228.9,319.6 230.4,318.0 231.9,316.2 233.4,314.5 234.9,312.7 236.4,311.0 237.9,309.1 239.4,307.3 240.9,305.4 242.4,303.5 243.9,301.6 245.4,299.7 246.9,297.8 248.4,296.0 249.9,294.1 251.4,292.2 252.9,290.2 254.4,288.1 256.0,285.7 257.5,283.1 259.0,280.6 260.5,278.0 262.0,275.2 263.5,272.1 265.0,268.9 266.5,265.5 268.0,261.9 269.5,258.0 271.0,253.9 272.5,249.3 274.0,244.7 275.5,240.3 277.0,236.1" fill="none" stroke="#e00000" stroke-width="2.35" stroke-linejoin="round"/>
<polyline points="288.5,456.5 290.0,455.6 291.5,454.8 293.0,453.9 294.5,453.0 296.1,452.0 297.6,451.1 299.1,450.1 300.6,449.1 302.1,448.1 303.6,447.1 305.1,446.0 306.6,445.0 308.1,443.9 309.6,442.8 311.2,441.7 312.7,440.6 314.2,439.4 315.7,438.3 317.2,437.1 318.7,435.8 320.2,434.6 321.7,433.3 323.2,432.1 324.7,430.7 326.3,429.4 327.8,428.1 329.3,426.7 330.8,425.3 332.3,423.8 333.8,422.4 335.3,420.9 336.8,419.4 338.3,417.8 339.8,416.2 341.4,414.5 342.9,412.8 344.4,411.1 345.9,409.2 347.4,407.3 348.9,405.3 350.4,403.3 351.9,401.2 353.4,399.2 354.9,397.1 356.5,395.1 358.0,393.0 359.5,390.8 361.0,388.7 362.5,386.5" fill="none" stroke="#e00000" stroke-width="2.35" stroke-linejoin="round"/>
<path d="M62.00,456.5v-3.8M62.00,239.0v3.8" stroke="#000" stroke-width="0.75"/>
<path d="M77.03,456.5v-1.9M77.03,239.0v1.9" stroke="#000" stroke-width="0.75"/>
<path d="M92.05,456.5v-1.9M92.05,239.0v1.9" stroke="#000" stroke-width="0.75"/>
<path d="M107.08,456.5v-1.9M107.08,239.0v1.9" stroke="#000" stroke-width="0.75"/>
<path d="M122.10,456.5v-1.9M122.10,239.0v1.9" stroke="#000" stroke-width="0.75"/>
<path d="M137.12,456.5v-3.8M137.12,239.0v3.8" stroke="#000" stroke-width="0.75"/>
<path d="M152.15,456.5v-1.9M152.15,239.0v1.9" stroke="#000" stroke-width="0.75"/>
<path d="M167.18,456.5v-1.9M167.18,239.0v1.9" stroke="#000" stroke-width="0.75"/>
<path d="M182.20,456.5v-1.9M182.20,239.0v1.9" stroke="#000" stroke-width="0.75"/>
<path d="M197.22,456.5v-1.9M197.22,239.0v1.9" stroke="#000" stroke-width="0.75"/>
<path d="M212.25,456.5v-3.8M212.25,239.0v3.8" stroke="#000" stroke-width="0.75"/>
<path d="M227.28,456.5v-1.9M227.28,239.0v1.9" stroke="#000" stroke-width="0.75"/>
<path d="M242.30,456.5v-1.9M242.30,239.0v1.9" stroke="#000" stroke-width="0.75"/>
<path d="M257.33,456.5v-1.9M257.33,239.0v1.9" stroke="#000" stroke-width="0.75"/>
<path d="M272.35,456.5v-1.9M272.35,239.0v1.9" stroke="#000" stroke-width="0.75"/>
<path d="M287.38,456.5v-3.8M287.38,239.0v3.8" stroke="#000" stroke-width="0.75"/>
<path d="M302.40,456.5v-1.9M302.40,239.0v1.9" stroke="#000" stroke-width="0.75"/>
<path d="M317.43,456.5v-1.9M317.43,239.0v1.9" stroke="#000" stroke-width="0.75"/>
<path d="M332.45,456.5v-1.9M332.45,239.0v1.9" stroke="#000" stroke-width="0.75"/>
<path d="M347.48,456.5v-1.9M347.48,239.0v1.9" stroke="#000" stroke-width="0.75"/>
<path d="M362.50,456.5v-3.8M362.50,239.0v3.8" stroke="#000" stroke-width="0.75"/>
<path d="M62.0,443.71h3.8M362.5,443.71h-3.8" stroke="#000" stroke-width="0.75"/>
<text transform="translate(53.7,448.36) scale(0.94,1)" text-anchor="end" font-size="13.3">700</text>
<path d="M62.0,418.12h3.8M362.5,418.12h-3.8" stroke="#000" stroke-width="0.75"/>
<text transform="translate(53.7,422.77) scale(0.94,1)" text-anchor="end" font-size="13.3">800</text>
<path d="M62.0,392.53h3.8M362.5,392.53h-3.8" stroke="#000" stroke-width="0.75"/>
<text transform="translate(53.7,397.18) scale(0.94,1)" text-anchor="end" font-size="13.3">900</text>
<path d="M62.0,366.94h3.8M362.5,366.94h-3.8" stroke="#000" stroke-width="0.75"/>
<text transform="translate(53.7,371.59) scale(0.94,1)" text-anchor="end" font-size="13.3">1000</text>
<path d="M62.0,341.35h3.8M362.5,341.35h-3.8" stroke="#000" stroke-width="0.75"/>
<text transform="translate(53.7,346.00) scale(0.94,1)" text-anchor="end" font-size="13.3">1100</text>
<path d="M62.0,315.76h3.8M362.5,315.76h-3.8" stroke="#000" stroke-width="0.75"/>
<text transform="translate(53.7,320.41) scale(0.94,1)" text-anchor="end" font-size="13.3">1200</text>
<path d="M62.0,290.18h3.8M362.5,290.18h-3.8" stroke="#000" stroke-width="0.75"/>
<text transform="translate(53.7,294.83) scale(0.94,1)" text-anchor="end" font-size="13.3">1300</text>
<path d="M62.0,264.59h3.8M362.5,264.59h-3.8" stroke="#000" stroke-width="0.75"/>
<text transform="translate(53.7,269.24) scale(0.94,1)" text-anchor="end" font-size="13.3">1400</text>
<path d="M62.0,239.00h3.8M362.5,239.00h-3.8" stroke="#000" stroke-width="0.75"/>
<text transform="translate(53.7,243.65) scale(0.94,1)" text-anchor="end" font-size="13.3">1500</text>
<rect x="62.0" y="239.0" width="85.2" height="26.0" fill="#fff"/><path d="M62.0,265.0h85.2V239.0" fill="none" stroke="#000" stroke-width="1"/>
<rect x="62.0" y="239.0" width="300.5" height="217.5" fill="none" stroke="#000" stroke-width="1"/>
<text x="71.8" y="256.4">(b) Ba–rich</text>
<text transform="translate(298.2,303.6) scale(0.95,1)">10<tspan font-size="11.0" dy="-5.6">18</tspan><tspan dy="5.6"> cm</tspan><tspan font-size="11.0" dy="-5.6">−3</tspan></text>
<text transform="translate(231.6,429.7) scale(0.95,1)">10<tspan font-size="11.0" dy="-5.6">15</tspan><tspan dy="5.6"> cm</tspan><tspan font-size="11.0" dy="-5.6">−3</tspan></text>
<text x="70.6" y="416.2"><tspan class="it">V</tspan><tspan font-size="11.0" dy="4.8" dx="-1.4">O</tspan><tspan font-size="11.0" dy="-10.1" dx="0.5">2+</tspan></text>
<text x="109.0" y="444.3">[<tspan class="it">V</tspan><tspan font-size="11.0" dy="4.8" dx="-0.6">Ti</tspan><tspan dy="-4.8" dx="0.6">–</tspan><tspan class="it" dx="0.6">V</tspan><tspan font-size="11.0" dy="4.8" dx="-0.6">O</tspan><tspan dy="-4.8" dx="0.3">]</tspan><tspan font-size="11.0" dy="-7.6" dx="0.6">2−</tspan></text>
<text x="325.2" y="448.1"><tspan class="it">V</tspan><tspan font-size="11.0" dy="4.8" dx="-1.4">Ti</tspan><tspan font-size="11.0" dy="-11.3" dx="0">4−</tspan></text>
<path d="M257.5,264.2V381.3" stroke="#333" stroke-width="1"/>
<circle cx="257.5" cy="264.2" r="3.1" fill="#fff" stroke="#222" stroke-width="1"/>
<text x="251.6" y="270.5" text-anchor="end">A</text>
<circle cx="257.5" cy="315.7" r="3.1" fill="#fff" stroke="#222" stroke-width="1"/>
<text x="251.6" y="322.0" text-anchor="end">B</text>
<circle cx="257.5" cy="355.6" r="3.1" fill="#fff" stroke="#222" stroke-width="1"/>
<text x="251.6" y="361.9" text-anchor="end">C</text>
<circle cx="257.5" cy="381.3" r="3.1" fill="#fff" stroke="#222" stroke-width="1"/>
<text x="251.6" y="387.6" text-anchor="end">D</text>
<text transform="translate(62.6,475.4) scale(0.94,1)" text-anchor="middle" font-size="13.3">10<tspan font-size="11.0" dy="-6.2">−15</tspan></text>
<text transform="translate(137.4,475.4) scale(0.94,1)" text-anchor="middle" font-size="13.3">10<tspan font-size="11.0" dy="-6.2">−10</tspan></text>
<text transform="translate(212.6,475.4) scale(0.94,1)" text-anchor="middle" font-size="13.3">10<tspan font-size="11.0" dy="-6.2">−5</tspan></text>
<text transform="translate(287.6,475.4) scale(0.94,1)" text-anchor="middle" font-size="13.3">10<tspan font-size="11.0" dy="-6.2">0</tspan></text>
<text transform="translate(362.9,475.4) scale(0.94,1)" text-anchor="middle" font-size="13.3">10<tspan font-size="11.0" dy="-6.2">5</tspan></text>
<text x="116.6" y="493.7" font-size="14.1">Oxygen partial pressure (atm)</text>
<text transform="translate(12.6,166.8) rotate(-90)" font-size="14.1">Temperature (K)</text>
<text transform="translate(12.6,399.2) rotate(-90)" font-size="14.1">Temperature (K)</text>
</svg></body></html>
